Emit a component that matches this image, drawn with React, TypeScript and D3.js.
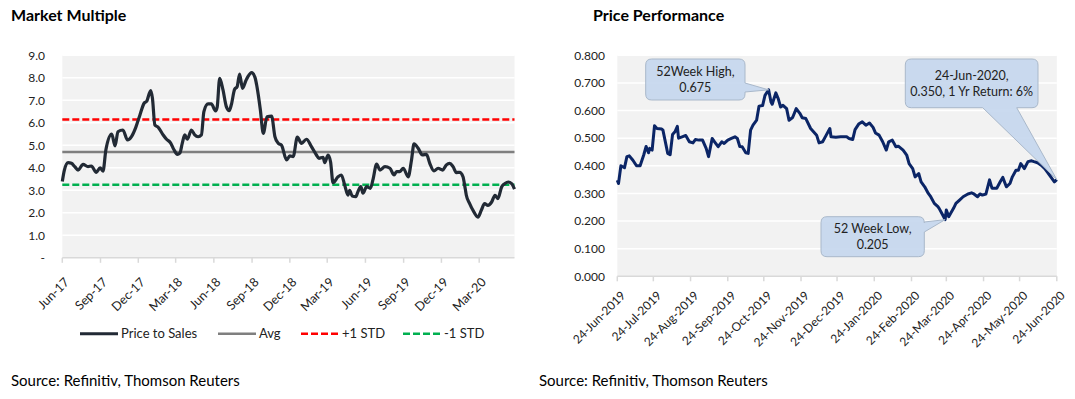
import React from 'react';
import * as d3 from 'd3';

// ---- Market Multiple (Price to Sales) ----
const psDates = [
  '2017-06-01', '2017-06-06', '2017-06-15', '2017-06-23', '2017-07-01', '2017-07-09', '2017-07-21', '2017-08-02', '2017-08-10', '2017-08-22',
  '2017-08-31', '2017-09-07', '2017-09-14', '2017-09-28', '2017-10-06', '2017-10-13', '2017-10-25', '2017-11-05', '2017-11-15', '2017-11-25',
  '2017-12-05', '2017-12-15', '2017-12-21', '2017-12-31', '2018-01-04', '2018-01-10', '2018-01-18', '2018-01-30', '2018-02-07', '2018-02-17',
  '2018-02-25', '2018-03-05', '2018-03-11', '2018-03-17', '2018-03-23', '2018-03-29', '2018-04-08', '2018-04-16', '2018-04-24', '2018-05-02',
  '2018-05-08', '2018-05-18', '2018-05-26', '2018-06-05', '2018-06-09', '2018-06-15', '2018-06-23', '2018-07-01', '2018-07-08', '2018-07-13',
  '2018-07-21', '2018-07-27', '2018-08-02', '2018-08-09', '2018-08-17', '2018-08-22', '2018-08-31', '2018-09-08', '2018-09-16', '2018-09-21',
  '2018-09-28', '2018-10-07', '2018-10-18', '2018-10-26', '2018-11-03', '2018-11-11', '2018-11-23', '2018-12-01', '2018-12-09', '2018-12-19',
  '2018-12-29', '2019-01-10', '2019-01-22', '2019-02-03', '2019-02-09', '2019-02-19', '2019-02-23', '2019-03-03', '2019-03-09', '2019-03-15',
  '2019-03-27', '2019-04-04', '2019-04-12', '2019-04-20', '2019-04-24', '2019-04-30', '2019-05-09', '2019-05-14', '2019-05-21', '2019-05-26',
  '2019-06-04', '2019-06-13', '2019-06-19', '2019-06-28', '2019-07-06', '2019-07-18', '2019-07-30', '2019-08-09', '2019-08-15', '2019-08-23',
  '2019-08-31', '2019-09-12', '2019-09-20', '2019-09-26', '2019-10-06', '2019-10-16', '2019-10-26', '2019-11-03', '2019-11-13', '2019-11-23',
  '2019-12-04', '2019-12-13', '2019-12-21', '2019-12-29', '2020-01-06', '2020-01-14', '2020-01-22', '2020-01-26', '2020-01-30', '2020-02-07',
  '2020-02-15', '2020-02-27', '2020-03-06', '2020-03-14', '2020-03-22', '2020-03-31', '2020-04-08', '2020-04-15', '2020-04-24', '2020-05-02',
  '2020-05-10', '2020-05-18', '2020-05-25',
];
const psValues = [
  3.39, 3.9, 4.23, 4.2, 4.05, 3.9, 4.15, 4.05, 4.08, 3.8,
  4.0, 3.85, 4.8, 5.5, 4.97, 5.6, 5.68, 5.24, 5.4, 5.8,
  6.35, 6.87, 6.95, 7.43, 7.1, 5.9, 5.8, 5.46, 5.27, 5.1,
  4.8, 4.6, 4.65, 5.1, 5.46, 5.27, 5.68, 5.46, 5.38, 5.46,
  6.5, 6.84, 6.84, 6.53, 6.7, 7.98, 7.46, 6.72, 6.54, 6.8,
  7.49, 7.6, 8.17, 7.53, 7.87, 8.05, 8.23, 8.02, 7.24, 6.57,
  5.53, 6.27, 6.3, 5.39, 5.09, 5.0, 4.35, 4.53, 4.5, 5.36,
  5.09, 5.27, 4.94, 4.57, 4.42, 4.47, 4.23, 4.57, 4.27, 3.34,
  3.6, 3.68, 3.24, 2.79, 3.0, 2.75, 2.72, 2.94, 3.16, 2.87,
  3.16, 3.09, 3.46, 4.17, 3.9, 4.05, 3.98, 3.68, 3.83, 3.83,
  3.98, 3.6, 4.35, 5.06, 4.87, 4.57, 4.6, 4.2, 3.86, 3.98,
  3.9, 4.13, 4.2, 4.05, 3.79, 3.8, 3.6, 3.22, 2.78, 2.41,
  2.11, 1.81, 2.11, 2.41, 2.33, 2.48, 2.78, 2.63, 3.15, 3.3,
  3.37, 3.3, 3.05,
];
const psAvg = 4.7;
const psPlusStd = 6.15;
const psMinusStd = 3.25;
const psTickLabels = ['Jun-17', 'Sep-17', 'Dec-17', 'Mar-18', 'Jun-18', 'Sep-18', 'Dec-18', 'Mar-19', 'Jun-19', 'Sep-19', 'Dec-19', 'Mar-20'];
const psYTicks = [0, 1, 2, 3, 4, 5, 6, 7, 8, 9];
const psLegend = ['Price to Sales', 'Avg', '+1 STD', '-1 STD'];

// ---- Price Performance ----
const pxDates = [
  '2019-06-24', '2019-06-25', '2019-06-27', '2019-06-30', '2019-07-02', '2019-07-04', '2019-07-07', '2019-07-10', '2019-07-13', '2019-07-16',
  '2019-07-18', '2019-07-20', '2019-07-21', '2019-07-23', '2019-07-25', '2019-07-27', '2019-07-31', '2019-08-01', '2019-08-05', '2019-08-07',
  '2019-08-09', '2019-08-11', '2019-08-13', '2019-08-14', '2019-08-17', '2019-08-20', '2019-08-23', '2019-08-26', '2019-08-28', '2019-08-31',
  '2019-09-03', '2019-09-06', '2019-09-08', '2019-09-11', '2019-09-13', '2019-09-16', '2019-09-19', '2019-09-21', '2019-09-24', '2019-09-27',
  '2019-09-30', '2019-10-02', '2019-10-04', '2019-10-06', '2019-10-09', '2019-10-11', '2019-10-13', '2019-10-15', '2019-10-17', '2019-10-18',
  '2019-10-20', '2019-10-23', '2019-10-25', '2019-10-28', '2019-10-30', '2019-10-31', '2019-11-03', '2019-11-05', '2019-11-07', '2019-11-09',
  '2019-11-12', '2019-11-14', '2019-11-17', '2019-11-20', '2019-11-23', '2019-11-25', '2019-11-28', '2019-12-02', '2019-12-07', '2019-12-09',
  '2019-12-12', '2019-12-15', '2019-12-18', '2019-12-19', '2019-12-23', '2019-12-27', '2020-01-01', '2020-01-03', '2020-01-06', '2020-01-08',
  '2020-01-11', '2020-01-14', '2020-01-17', '2020-01-20', '2020-01-23', '2020-01-25', '2020-01-28', '2020-01-31', '2020-02-03', '2020-02-05',
  '2020-02-08', '2020-02-11', '2020-02-13', '2020-02-17', '2020-02-20', '2020-02-22', '2020-02-25', '2020-02-27', '2020-03-01', '2020-03-03',
  '2020-03-06', '2020-03-09', '2020-03-11', '2020-03-14', '2020-03-17', '2020-03-18', '2020-03-21', '2020-03-23', '2020-03-24', '2020-03-26',
  '2020-03-30', '2020-04-01', '2020-04-04', '2020-04-07', '2020-04-11', '2020-04-14', '2020-04-16', '2020-04-19', '2020-04-21', '2020-04-23',
  '2020-04-26', '2020-04-29', '2020-05-01', '2020-05-05', '2020-05-08', '2020-05-10', '2020-05-13', '2020-05-16', '2020-05-18', '2020-05-21',
  '2020-05-23', '2020-05-25', '2020-05-28', '2020-05-31', '2020-06-03', '2020-06-05', '2020-06-08', '2020-06-11', '2020-06-14', '2020-06-16',
  '2020-06-19', '2020-06-22', '2020-06-24',
];
const pxValues = [
  0.348, 0.336, 0.4, 0.393, 0.433, 0.436, 0.42, 0.4, 0.4, 0.439,
  0.47, 0.447, 0.463, 0.457, 0.545, 0.535, 0.533, 0.529, 0.445, 0.44,
  0.513, 0.523, 0.543, 0.5, 0.505, 0.51, 0.487, 0.483, 0.495, 0.493,
  0.493, 0.463, 0.433, 0.499, 0.487, 0.469, 0.487, 0.481, 0.493, 0.499,
  0.505, 0.499, 0.47, 0.469, 0.447, 0.445, 0.529, 0.547, 0.559, 0.565,
  0.616, 0.618, 0.655, 0.675, 0.631, 0.623, 0.664, 0.643, 0.613, 0.619,
  0.607, 0.565, 0.575, 0.607, 0.59, 0.574, 0.571, 0.535, 0.511, 0.483,
  0.487, 0.511, 0.535, 0.505, 0.503, 0.505, 0.505, 0.499, 0.495, 0.531,
  0.551, 0.559, 0.547, 0.555, 0.539, 0.519, 0.511, 0.487, 0.457, 0.487,
  0.493, 0.469, 0.471, 0.457, 0.439, 0.408, 0.39, 0.36, 0.372, 0.342,
  0.324, 0.3, 0.288, 0.264, 0.252, 0.246, 0.222, 0.205, 0.24, 0.216,
  0.246, 0.264, 0.276, 0.288, 0.298, 0.302, 0.298, 0.288, 0.298, 0.294,
  0.298, 0.349, 0.319, 0.319, 0.343, 0.358, 0.324, 0.336, 0.36, 0.384,
  0.384, 0.408, 0.39, 0.415, 0.418, 0.415, 0.411, 0.402, 0.39, 0.378,
  0.36, 0.342, 0.35,
];
const pxTickLabels = [
  '24-Jun-2019', '24-Jul-2019', '24-Aug-2019', '24-Sep-2019', '24-Oct-2019', '24-Nov-2019', '24-Dec-2019',
  '24-Jan-2020', '24-Feb-2020', '24-Mar-2020', '24-Apr-2020', '24-May-2020', '24-Jun-2020',
];
const pxYTicks = [0, 0.1, 0.2, 0.3, 0.4, 0.5, 0.6, 0.7, 0.8];
const oneYrReturn = '6%';

const FONT = "Lato, 'Open Sans', sans-serif";
const parseISO = d3.timeParse('%Y-%m-%d');
const parseMonth = d3.timeParse('%b-%y');
const parseDay = d3.timeParse('%d-%b-%Y');

// callout shape: rounded box with a pointer leaving one side
function calloutPath(x0: number, y0: number, x1: number, y1: number, side: string, a: number, b: number, tx: number, ty: number) {
  const r = 6;
  const p = d3.path();
  p.moveTo(x0 + r, y0);
  p.lineTo(x1 - r, y0);
  p.quadraticCurveTo(x1, y0, x1, y0 + r);
  if (side === 'right') {
    p.lineTo(x1, a);
    p.lineTo(tx, ty);
    p.lineTo(x1, b);
  }
  p.lineTo(x1, y1 - r);
  p.quadraticCurveTo(x1, y1, x1 - r, y1);
  if (side === 'bottom') {
    p.lineTo(b, y1);
    p.lineTo(tx, ty);
    p.lineTo(a, y1);
  }
  p.lineTo(x0 + r, y1);
  p.quadraticCurveTo(x0, y1, x0, y1 - r);
  p.lineTo(x0, y0 + r);
  p.quadraticCurveTo(x0, y0, x0 + r, y0);
  p.closePath();
  return p.toString();
}

function MarketMultiple() {
  const left = 62.3, right = 514.5, top = 55.3, bottom = 257.8;
  const data = psDates.map((d, i) => ({ date: parseISO(d) as Date, value: psValues[i] }));
  const x = d3.scaleTime()
    .domain([data[0].date, data[data.length - 1].date])
    .range([left, right]);
  const y = d3.scaleLinear().domain([0, 9]).range([bottom, top]);
  const line = d3.line<{ date: Date; value: number }>()
    .x(d => x(d.date))
    .y(d => y(d.value))
    .curve(d3.curveMonotoneX);

  const legendX = [80, 218, 301, 403];
  const legendStyles = [
    { stroke: '#222a35', dash: undefined, w: 3 },
    { stroke: '#7f7f7f', dash: undefined, w: 2.5 },
    { stroke: '#ff0000', dash: '7,3', w: 2.5 },
    { stroke: '#00b050', dash: '7,3', w: 2.5 },
  ];

  return (
    <g>
      <text x={11} y={21} fontFamily={FONT} fontWeight="bold" fontSize={16} fill="#000">Market Multiple</text>
      <rect x={left} y={top} width={right - left} height={bottom - top} fill="#f2f2f2" />
      {psYTicks.map(t => (
        <g key={t}>
          {t > 0 && <line x1={left} x2={right} y1={y(t)} y2={y(t)} stroke="#fff" strokeWidth={1.5} />}
          <text x={45} y={y(t)} dy="0.35em" textAnchor="end" fontFamily={FONT} fontSize={12} fill="#222">
            {t === 0 ? '-' : d3.format('.1f')(t)}
          </text>
        </g>
      ))}
      <line x1={left} x2={right} y1={bottom} y2={bottom} stroke="#d9d9d9" strokeWidth={1.5} />
      {psTickLabels.map(lbl => {
        const tx = x(parseMonth(lbl) as Date);
        return (
          <g key={lbl}>
            <line x1={tx} x2={tx} y1={bottom} y2={bottom + 5} stroke="#d9d9d9" strokeWidth={1.5} />
            <text transform={`translate(${tx + 4.5},${bottom + 22})  rotate(-45)`} textAnchor="end" dy="0.35em"
              fontFamily={FONT} fontSize={12.5} fill="#222">{lbl}</text>
          </g>
        );
      })}
      <line x1={left} x2={right} y1={y(psAvg)} y2={y(psAvg)} stroke="#7f7f7f" strokeWidth={2.5} />
      <line x1={left} x2={right} y1={y(psPlusStd)} y2={y(psPlusStd)} stroke="#ff0000" strokeWidth={2.5} strokeDasharray="7,3" />
      <line x1={left} x2={right} y1={y(psMinusStd)} y2={y(psMinusStd)} stroke="#00b050" strokeWidth={2.5} strokeDasharray="7,3" />
      <path d={line(data) as string} fill="none" stroke="#222a35" strokeWidth={3.2} strokeLinejoin="round" />
      {psLegend.map((name, i) => (
        <g key={name}>
          <line x1={legendX[i]} x2={legendX[i] + 38} y1={333.7} y2={333.7} stroke={legendStyles[i].stroke}
            strokeWidth={legendStyles[i].w} strokeDasharray={legendStyles[i].dash} />
          <text x={legendX[i] + 41} y={333.7} dy="0.35em" fontFamily={FONT} fontSize={13} fill="#222">{name}</text>
        </g>
      ))}
      <text x={11} y={386} fontFamily={FONT} fontSize={15} fill="#000">Source: Refinitiv, Thomson Reuters</text>
    </g>
  );
}

function PricePerformance() {
  const left = 617.3, right = 1056.8, top = 55.3, bottom = 276.3;
  const data = pxDates.map((d, i) => ({ date: parseISO(d) as Date, value: pxValues[i] }));
  const x = d3.scaleTime()
    .domain([parseDay(pxTickLabels[0]) as Date, parseDay(pxTickLabels[pxTickLabels.length - 1]) as Date])
    .range([left, right]);
  const y = d3.scaleLinear().domain([0, 0.8]).range([bottom, top]);
  const line = d3.line<{ date: Date; value: number }>()
    .x(d => x(d.date))
    .y(d => y(d.value));

  const hi = data[d3.maxIndex(data, d => d.value)];
  const lo = data[d3.minIndex(data, d => d.value)];
  const last = data[data.length - 1];
  const fmt = d3.format('.3f');
  const dayFmt = d3.timeFormat('%d-%b-%Y');

  const callouts = [
    { box: [645.7, 59, 745, 100], side: 'right', a: 83, b: 92, pt: hi, lines: ['52Week High,', fmt(hi.value)] },
    { box: [821, 216.7, 924.3, 256.7], side: 'right', a: 222, b: 232, pt: lo, lines: ['52 Week Low,', fmt(lo.value)] },
    {
      box: [905.3, 59, 1038, 107.7], side: 'bottom', a: 982.7, b: 1016.7, pt: last,
      lines: [dayFmt(last.date) + ',', `${fmt(last.value)}, 1 Yr Return: ${oneYrReturn}`],
    },
  ];

  return (
    <g>
      <text x={593} y={21} fontFamily={FONT} fontWeight="bold" fontSize={16} fill="#000">Price Performance</text>
      <rect x={left} y={top} width={right - left} height={bottom - top} fill="#f2f2f2" />
      {pxYTicks.map(t => (
        <g key={t}>
          {t > 0 && <line x1={left} x2={right} y1={y(t)} y2={y(t)} stroke="#fff" strokeWidth={1.5} />}
          <text x={605} y={y(t)} dy="0.35em" textAnchor="end" fontFamily={FONT} fontSize={12} fill="#222">{fmt(t)}</text>
        </g>
      ))}
      <line x1={left} x2={right} y1={bottom} y2={bottom} stroke="#d9d9d9" strokeWidth={1.5} />
      {pxTickLabels.map(lbl => {
        const tx = x(parseDay(lbl) as Date);
        return (
          <g key={lbl}>
            <line x1={tx} x2={tx} y1={bottom} y2={bottom + 5} stroke="#d9d9d9" strokeWidth={1.5} />
            <text transform={`translate(${tx + 6},${bottom + 17}) rotate(-45)`} textAnchor="end" dy="0.35em"
              fontFamily={FONT} fontSize={12} fill="#222">{lbl}</text>
          </g>
        );
      })}
      <path d={line(data) as string} fill="none" stroke="#0b2566" strokeWidth={3} strokeLinejoin="round" />
      {callouts.map((c, i) => {
        const [x0, y0, x1, y1] = c.box;
        const cx = (x0 + x1) / 2;
        const cy = (y0 + y1) / 2;
        return (
          <g key={i}>
            <path d={calloutPath(x0, y0, x1, y1, c.side, c.a, c.b, x(c.pt.date), y(c.pt.value))}
              fill="#c6d7ee" fillOpacity={0.92} stroke="#a9b8ca" strokeWidth={1} />
            {c.lines.map((t, j) => (
              <text key={j} x={cx} y={cy + (j === 0 ? -8 : 8)} dy="0.35em" textAnchor="middle"
                fontFamily={FONT} fontSize={12.5} fill="#222">{t}</text>
            ))}
          </g>
        );
      })}
      <text x={539} y={386} fontFamily={FONT} fontSize={15} fill="#000">Source: Refinitiv, Thomson Reuters</text>
    </g>
  );
}

export default function App() {
  return (
    <svg width={1075} height={399} style={{ position: 'absolute', left: 0, top: 0, background: '#fff' }}>
      <MarketMultiple />
      <PricePerformance />
    </svg>
  );
}
